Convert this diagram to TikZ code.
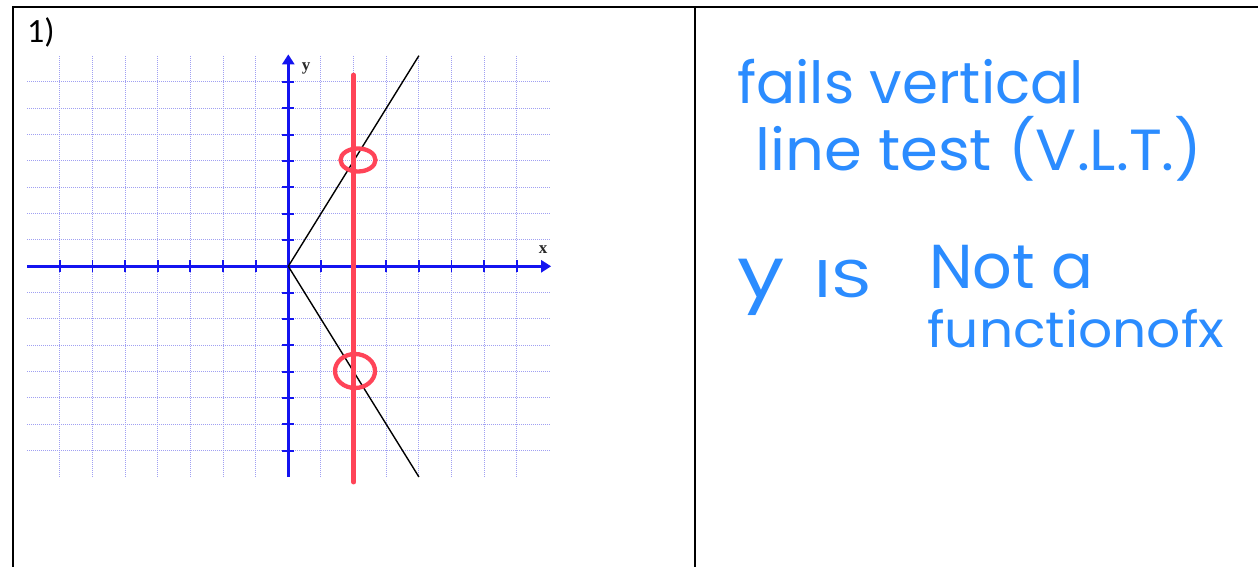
\documentclass[tikz,border=0pt]{standalone}
\usepackage{fontspec}
\setmainfont{Liberation Serif}
\newfontfamily\hand{Poppins}
\newfontfamily\calib{Carlito}
\usetikzlibrary{arrows.meta}
\definecolor{hblue}{HTML}{2B8CFF}
\definecolor{vred}{HTML}{FF4458}
\definecolor{gridc}{HTML}{A0A0F2}
\definecolor{axisc}{HTML}{1414F0}
\definecolor{labc}{HTML}{2A2A2A}
\begin{document}
\begin{tikzpicture}[x=1pt,y=-1pt,
  hw/.style={text=hblue, anchor=base west, inner sep=0pt},
  gridline/.style={gridc, line width=1pt, dash pattern=on 1pt off 1pt},
  axisline/.style={axisc, line width=2.4pt, -{Triangle[width=12pt,length=10pt]}},
  tickline/.style={axisc, line width=1.8pt},
  axlabel/.style={font=\bfseries\fontsize{17}{17}\selectfont, text=labc, inner sep=0pt},
  frameline/.style={black, line width=2.5pt},
  vline/.style={vred, line width=4.5pt, line cap=round},
  loopline/.style={vred, line width=4.3pt}]
\useasboundingbox (0,0) rectangle (1258,567);
\fill[white] (0,0) rectangle (1258,567);
% table frame
\coordinate (tl) at (13,7);
\coordinate (tr) at (1258,7);
\coordinate (bl) at (13,567);
\coordinate (mt) at (695,7);
\coordinate (mb) at (695,567);
\draw[frameline] (bl) -- (tl) -- (tr);
\draw[frameline, line width=2pt] (mt) -- (mb);
\node[font=\calib\fontsize{34}{34}\selectfont, anchor=base west, inner sep=0pt] (num) at (27,43) {1)};
% graph
\begin{scope}[xshift=288.3pt, yshift=-266.3pt, x={(32.65pt,0pt)}, y={(0pt,26.33pt)}]
  \foreach \i in {-7,...,-1,1,2,...,7} {
    \draw[gridline] (\i,-8) -- (\i,8);
    \draw[gridline] (-8,\i) -- (8,\i);
  }
  \coordinate (xl) at (-8,0);
  \coordinate (xr) at (8.05,0);
  \coordinate (yb) at (0,-8);
  \coordinate (yt) at (0,8.05);
  \draw[axisline] (xl) -- (xr);
  \draw[axisline] (yb) -- (yt);
  \foreach \i in {-7,...,-1,1,2,...,7} {
    \draw[tickline] (\i,0) ++(0pt,-6pt) -- ++(0pt,12pt);
    \draw[tickline] (0,\i) ++(-6pt,0pt) -- ++(12pt,0pt);
  }
  \coordinate (vt) at (4,8);
  \coordinate (vo) at (0,0);
  \coordinate (vb) at (4,-8);
  \draw[black, line width=1.4pt] (vt) -- (vo) -- (vb);
  \coordinate (rt) at (2,7.27);
  \coordinate (rb) at (2,-8.2);
  \draw[vline] (rt) -- (rb);
\end{scope}
\node[axlabel] (ylab) at (306,68) {y};
\node[axlabel] (xlab) at (543,250) {x};
\coordinate (c1) at (358,160);
\coordinate (c2) at (355,371);
\draw[loopline] (c1) ellipse [x radius=17.5pt, y radius=11.5pt];
\draw[loopline] (c2) ellipse [x radius=20pt, y radius=17pt];
% handwritten notes
\node[hw, font=\hand\fontsize{58}{58}\selectfont] (t1) at (737,104) {fails vertical};
\node[hw, font=\hand\fontsize{58}{58}\selectfont] (t2) at (755,170) {\scalebox{1.05}[1]{line test (V.L.T.)}};
\node[hw, font=\hand\fontsize{53}{53}\selectfont] (t3) at (737,297) {\scalebox{1.2}[1]{\fontsize{70}{70}\selectfont y}\hspace{30pt}\scalebox{1.3}[1]{IS}};
\node[hw, font=\hand\fontsize{62}{62}\selectfont] (t4) at (929,288) {Not a};
\node[hw, font=\hand\fontsize{50}{50}\selectfont] (t5) at (927,347) {\scalebox{1.07}[1]{functionofx}};
\end{tikzpicture}
\end{document}
